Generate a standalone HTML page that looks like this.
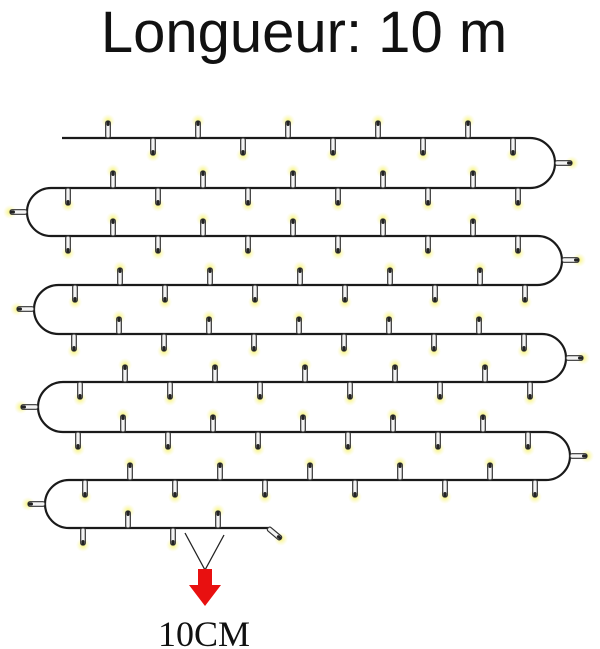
<!DOCTYPE html>
<html><head><meta charset="utf-8"><style>
html,body{margin:0;padding:0;background:#fff;width:600px;height:649px;overflow:hidden}
</style></head><body>
<svg id="s" width="600" height="649" viewBox="0 0 600 649" xmlns="http://www.w3.org/2000/svg">
<defs><radialGradient id="g"><stop offset="0" stop-color="#f4f060" stop-opacity="0.9"/><stop offset="1" stop-color="#f8f6a0" stop-opacity="0"/></radialGradient></defs>
<text x="304" y="52" text-anchor="middle" font-family="Liberation Sans, sans-serif" font-size="58" fill="#111">Longueur: 10 m</text>
<g id="w" fill="none" stroke="#1a1a1a" stroke-width="2.2"></g>
<g id="b"></g>
<line x1="185" y1="533" x2="205" y2="570" stroke="#222" stroke-width="1.3"/>
<line x1="224" y1="535" x2="205" y2="570" stroke="#222" stroke-width="1.3"/>
<polygon points="198,569 212,569 212,585 221,585 205,606 189,585 198,585" fill="#e81010"/>
<text x="204" y="646" text-anchor="middle" font-family="Liberation Serif, serif" font-size="36" fill="#111">10CM</text>
</svg>
<script>
var NS="http://www.w3.org/2000/svg";
var ys=[138,188,236,285,334,382,432,480,528];
var x0=[63,68,68,75,74,80,78,85,83];
var L=[null,27,null,34,null,38,null,45];
var R=[555,null,562,null,566,null,570,null];
var d="";
d+="M62,"+ys[0];
for(var i=0;i<8;i++){
 var y1=ys[i],y2=ys[i+1],r=(y2-y1)/2;
 if(i%2==0){var t=R[i];d+=" L"+(t-r)+","+y1+" A"+r+","+r+" 0 0 1 "+(t-r)+","+y2;}
 else{var t=L[i];d+=" L"+(t+r)+","+y1+" A"+r+","+r+" 0 0 0 "+(t+r)+","+y2;}
}
d+=" L268,528";
var p=document.createElementNS(NS,"path");p.setAttribute("d",d);document.getElementById("w").appendChild(p);
var B=document.getElementById("b");
function bulb(x,y,dir,ang){
 var g=document.createElementNS(NS,"g");
 g.setAttribute("transform","translate("+x+","+y+") rotate("+(ang||0)+")");
 var tip=dir*17;
 g.innerHTML='<circle cx="0" cy="'+tip+'" r="7" fill="url(#g)"/>'+
 '<rect x="-2.3" y="'+(dir<0?-17:0)+'" width="4.6" height="17" rx="2" fill="#f4f4f4" stroke="#333" stroke-width="1.2"/>'+
 '<rect x="-1.5" y="'+(dir<0?-17:12)+'" width="3" height="5" rx="1.5" fill="#222"/>';
 B.appendChild(g);
}
for(var i=0;i<9;i++){
 var y=ys[i];
 var start=(i==0)?62:(i%2==1?L[i]+20:L[i-1]+20);
 var end=(i==8)?262:(i%2==0?R[i]-10:R[i-1]-10);
 for(var k=0;k<7;k++){
  var xd=x0[i]+90*k, xu=xd+45;
  if(xd>start+3&&xd<end) bulb(xd,y,1);
  if(xu>start+3&&xu<end) bulb(xu,y,-1);
 }
}
function side(x,y,dirx){bulb(x,y,1,dirx>0?-90:90);}
side(R[0],163,1);side(L[1],212,-1);side(R[2],260,1);side(L[3],309,-1);
side(R[4],358,1);side(L[5],407,-1);side(R[6],456,1);side(L[7],504,-1);
bulb(268,528,1,-50);
</script>
</body></html>
